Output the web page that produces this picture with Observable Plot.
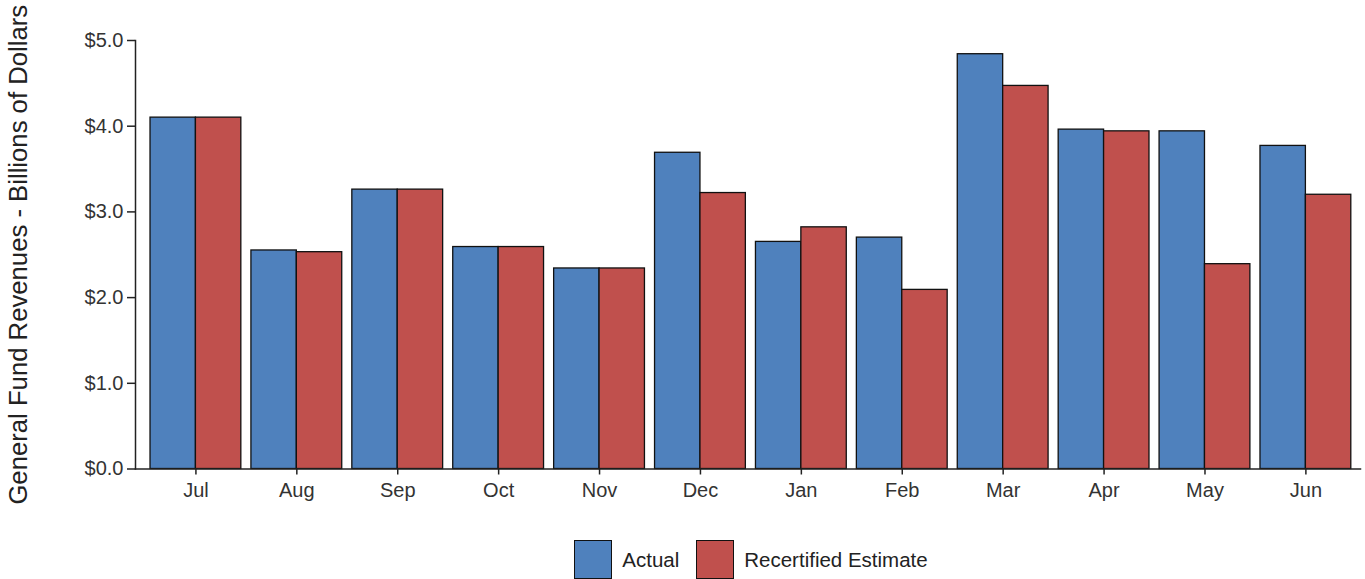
<!DOCTYPE html>
<html>
<head>
<meta charset="utf-8">
<script src="https://cdn.jsdelivr.net/npm/d3@7"></script>
<script src="https://cdn.jsdelivr.net/npm/@observablehq/plot@0.6"></script>
<style>
  html, body { margin: 0; padding: 0; background: #fff; }
  body { width: 1365px; height: 579px; overflow: hidden; font-family: "Liberation Sans", Arial, sans-serif; }
  #legend { display: flex; justify-content: center; align-items: center; margin-left: 135px; width: 1232px; margin-top: 20px; font-size: 20.5px; color: #222; }
  .item { display: flex; align-items: center; }
  .sw { width: 36px; height: 37px; border: 1.3px solid #111; box-sizing: content-box; margin-right: 10px; }
  .item + .item { margin-left: 17px; }
</style>
</head>
<body>
<div id="chart"></div>
<div id="legend"></div>
<script>
const months = ["Jul", "Aug", "Sep", "Oct", "Nov", "Dec", "Jan", "Feb", "Mar", "Apr", "May", "Jun"];
const actual = [4.10, 2.55, 3.26, 2.59, 2.34, 3.69, 2.65, 2.70, 4.84, 3.96, 3.94, 3.77];
const recertified = [4.10, 2.53, 3.26, 2.59, 2.34, 3.22, 2.82, 2.09, 4.47, 3.94, 2.39, 3.20];
const seriesNames = ["Actual", "Recertified Estimate"];
const seriesColors = ["#4F81BD", "#C0504D"];
const yTicks = [0, 1, 2, 3, 4, 5];

const data = [];
months.forEach((m, i) => {
  data.push({month: m, series: seriesNames[0], value: actual[i]});
  data.push({month: m, series: seriesNames[1], value: recertified[i]});
});

const font = '"Liberation Sans", Arial, sans-serif';

function build(half) {
  return Plot.plot({
    width: 1365,
    height: 520,
    marginLeft: 135,
    marginRight: 5,
    marginTop: 40,
    marginBottom: 51.5,
    style: {fontFamily: font, fontSize: "20px", background: "#fff", color: "#333"},
    x: {domain: months, paddingInner: 0.1, paddingOuter: 0.12, align: 0.62, round: false},
    y: {domain: [0, 5]},
    color: {domain: seriesNames, range: seriesColors},
    marks: [
      Plot.barY(data.filter(d => d.series === seriesNames[0]), {
        x: "month", y: "value", fill: "series", stroke: "#111", strokeWidth: 1.3,
        insetLeft: 0, insetRight: half
      }),
      Plot.barY(data.filter(d => d.series === seriesNames[1]), {
        x: "month", y: "value", fill: "series", stroke: "#111", strokeWidth: 1.3,
        insetLeft: half, insetRight: 0
      }),
      Plot.frame({anchor: "left", stroke: "#222", strokeWidth: 1.5}),
      Plot.frame({anchor: "bottom", stroke: "#222", strokeWidth: 1.5}),
      Plot.axisY({
        ticks: yTicks, tickFormat: d => "$" + d.toFixed(1), tickSize: 8, tickPadding: 4,
        stroke: "#222", strokeWidth: 1.5, fill: "#333",
        label: "General Fund Revenues - Billions of Dollars", labelAnchor: "center",
        labelArrow: "none", labelOffset: 127, fontSize: 20
      }),
      Plot.axisX({
        tickSize: 6, tickPadding: 8, stroke: "#222", strokeWidth: 1.5, fill: "#333",
        label: null, fontSize: 20
      })
    ]
  });
}

const probe = build(0);
const half = probe.scale("x").bandwidth / 2;
const chart = build(half);
// enlarge the y-axis title
chart.querySelectorAll("text").forEach(t => {
  if (t.textContent.startsWith("General Fund")) {
    t.setAttribute("font-size", "25.7");
    t.style.fontSize = "25.7px";
    t.setAttribute("fill", "#222");
  }
});
document.getElementById("chart").appendChild(chart);

const legend = d3.select("#legend");
seriesNames.forEach((name, i) => {
  const item = legend.append("div").attr("class", "item");
  item.append("div").attr("class", "sw").style("background", seriesColors[i]);
  item.append("span").text(name);
});
</script>
</body>
</html>
